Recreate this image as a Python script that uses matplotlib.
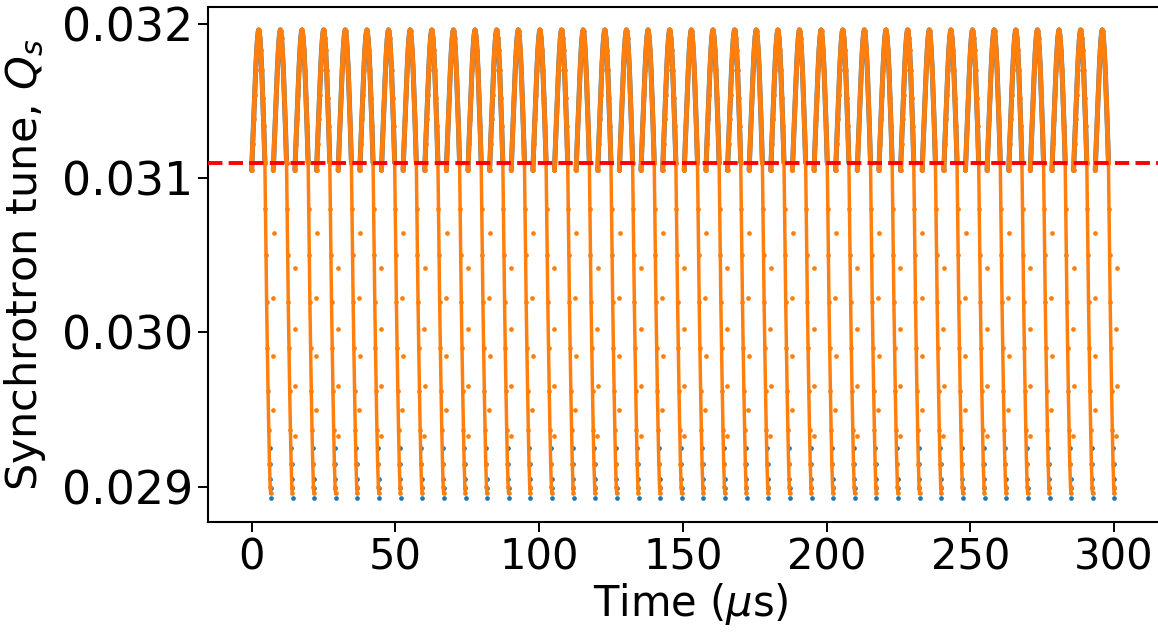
import matplotlib
matplotlib.use('Agg')
import matplotlib.pyplot as plt
from matplotlib.ticker import FormatStrFormatter
import numpy as np

# start time of each oscillation cycle (us)
cycle_start = [0.00, 7.53, 15.05, 22.58, 30.10, 37.63, 45.15, 52.68, 60.20, 67.73,
               75.25, 82.78, 90.30, 97.83, 105.35, 112.88, 120.40, 127.93, 135.45, 142.98,
               150.50, 158.03, 165.55, 173.08, 180.60, 188.13, 195.65, 203.18, 210.70, 218.23,
               225.75, 233.28, 240.80, 248.33, 255.85, 263.38, 270.90, 278.43, 285.95, 293.48]

# upper arc of one cycle: time after cycle start (us) and tune
arc_dt = [0.0, 0.35, 0.7, 1.05, 1.4, 1.75, 2.05, 2.3, 2.45, 2.6, 2.85, 3.15, 3.5, 3.85, 4.2, 4.6]
arc_q = [0.03105, 0.03122, 0.03138, 0.03154, 0.03170, 0.03183, 0.03191, 0.03195, 0.03196,
         0.03195, 0.03191, 0.03183, 0.03170, 0.03152, 0.03134, 0.03110]

# steep fall below the threshold
drop_dt = [4.6, 4.8, 5.0, 5.2, 5.45, 5.7, 5.95, 6.2, 6.45, 6.6]
drop_q = [0.03110, 0.03080, 0.03050, 0.03020, 0.02990, 0.02962, 0.02937, 0.02915, 0.02900, 0.02896]

# bottom points of the first series that show under the second
blue_dt = [6.3, 6.4, 6.5, 6.58, 6.68]
blue_q = [0.02925, 0.02915, 0.02905, 0.02899, 0.02893]

# isolated points right of the fall, alternating between cycles
stray_dt_even = [7.6, 7.3, 7.5, 7.3]
stray_q_even = [0.030645, 0.030223, 0.029846, 0.029498]
stray_dt_odd = [7.5, 7.4, 7.5, 7.4]
stray_q_odd = [0.030418, 0.030024, 0.029656, 0.029331]

threshold = 0.031099

xticks = [0, 50, 100, 150, 200, 250, 300]
yticks = [0.029, 0.030, 0.031, 0.032]

orange = '#ff7f0e'
blue = '#1f77b4'

fig = plt.figure(figsize=(11.58, 6.37), dpi=100)
# right edge of the axes lies just past the picture, as in the cropped original
ax = fig.add_axes([0.1796, 0.181, 0.834, 0.808])

for i, t0 in enumerate(cycle_start):
    ax.plot(t0 + np.array(blue_dt), blue_q, 'o', color=blue, ms=3.4, mew=0)
    ax.plot(t0 + np.array(arc_dt), arc_q, '-', color=blue, lw=3.6, solid_capstyle='round')
for i, t0 in enumerate(cycle_start):
    ax.plot(t0 + np.array(arc_dt), arc_q, '-o', color=orange, lw=3.4, ms=3.5, mew=0,
            solid_capstyle='round')
    ax.plot(t0 + np.array(drop_dt), drop_q, '-o', color=orange, lw=2.5, ms=3.4, mew=0)
    if i % 2 == 0:
        ax.plot(t0 + np.array(stray_dt_even), stray_q_even, 'o', color=orange, ms=3.4, mew=0)
    else:
        ax.plot(t0 + np.array(stray_dt_odd), stray_q_odd, 'o', color=orange, ms=3.4, mew=0)

ax.axhline(threshold, color='red', ls='--', lw=2.8, zorder=5)

ax.set_xlim(-15.2, 320.8)
ax.set_ylim(0.028774, 0.032108)
ax.set_xticks(xticks)
ax.set_yticks(yticks)
ax.yaxis.set_major_formatter(FormatStrFormatter('%.3f'))
ax.tick_params(axis='y', labelsize=33, length=7, width=1.4)
ax.tick_params(axis='x', labelsize=30, length=7, width=1.4)
for s in ax.spines.values():
    s.set_linewidth(1.5)

ax.set_xlabel(r'Time ($\mu$s)', fontsize=30, labelpad=2)
ax.set_ylabel(r'Synchrotron tune, $Q_s$', fontsize=31, labelpad=10)

fig.savefig('out.png', dpi=100)
